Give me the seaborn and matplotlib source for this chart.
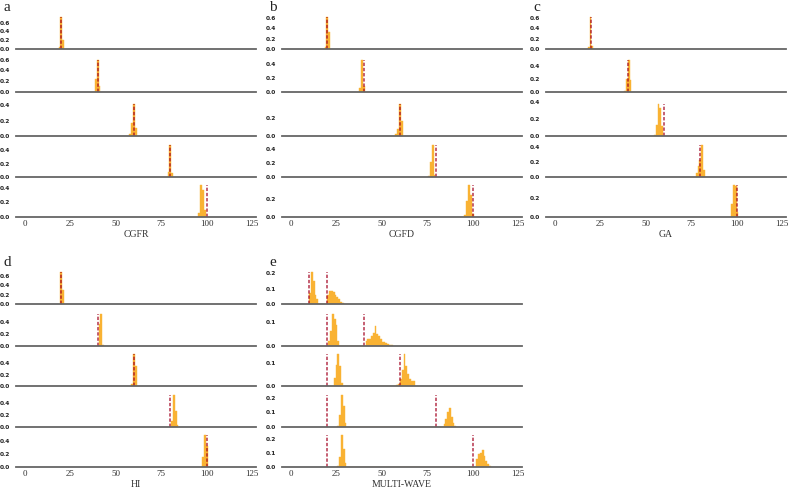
import numpy as np
import matplotlib
matplotlib.use('Agg')
import matplotlib.pyplot as plt
import seaborn as sns

# values
# *_true  : true positions (red dashed lines)
# *_first : centre of the first histogram bin in each row (bin width 1)
# *_dens  : bar heights (density) in each row
cgfr_true = [20, 40, 60, 80, 100]
cgfr_first = [19, 39, 58, 79, 96]
cgfr_dens = [[0.04, 0.74, 0.2],
             [0.25, 0.6, 0.12],
             [0.03, 0.17, 0.42, 0.1],
             [0.08, 0.48, 0.06],
             [0.05, 0.44, 0.37, 0.1]]

cgfd_true = [20, 40, 60, 80, 100]
cgfd_first = [19, 38, 58, 76, 96]
cgfd_dens = [[0.03, 0.62, 0.33],
             [0.06, 0.46, 0.08],
             [0.02, 0.08, 0.37, 0.17],
             [0.02, 0.22, 0.47, 0.03],
             [0.02, 0.18, 0.36, 0.24, 0.03]]

ga_true = [20, 40, 60, 80, 100]
ga_first = [18.5, 38.5, 55, 78, 97.5]
ga_dens = [[0.04, 0.62, 0.05],
           [0.02, 0.2, 0.49, 0.18],
           [0.01, 0.13, 0.385, 0.33, 0.12],
           [0.05, 0.15, 0.22, 0.43, 0.09],
           [0.14, 0.35, 0.34, 0.05]]

hi_true = [20, 40, 60, 80, 100]
hi_first = [20, 41, 59, 81, 98]
hi_dens = [[0.7, 0.3],
           [0.38, 0.55, 0.02],
           [0.04, 0.57, 0.35],
           [0.1, 0.55, 0.27, 0.03],
           [0.15, 0.5, 0.32]]

mw_true = [[10, 20], [20, 40], [20, 60], [20, 80], [20, 100]]
mw_first = [[10.5, 20.5], [21, 41.5], [24, 58.5], [26, 84.5], [26, 102.5]]
mw_dens = [
    [[0.07, 0.21, 0.15, 0.06, 0.03],
     [0.06, 0.085, 0.087, 0.075, 0.06, 0.045, 0.03, 0.015, 0.005]],
    [[0.02, 0.065, 0.136, 0.115, 0.09, 0.02],
     [0.02, 0.03, 0.03, 0.043, 0.055, 0.083, 0.05, 0.04, 0.03, 0.015,
      0.015, 0.012, 0.008, 0.005, 0.003]],
    [[0.035, 0.09, 0.137, 0.085, 0.012],
     [0.005, 0.01, 0.03, 0.07, 0.14, 0.085, 0.05, 0.03, 0.023, 0.02]],
    [[0.01, 0.08, 0.22, 0.14, 0.03],
     [0.02, 0.057, 0.1, 0.128, 0.07, 0.025, 0.01]],
    [[0.01, 0.07, 0.23, 0.125, 0.03],
     [0.06, 0.09, 0.1, 0.12, 0.075, 0.04, 0.02, 0.01]],
]

sns.set_style('white')
plt.rcParams['font.family'] = ['Liberation Serif', 'DejaVu Serif']

W, H = 790, 490
fig = plt.figure(figsize=(W / 100, H / 100), dpi=100)

BAR = '#f9b233'
LINE = '#a3001f'
AX_W, AX_H = 240, 34
top_rows = [49, 92, 136, 177, 217]
bot_rows = [304, 346, 386, 427, 467]


def draw_panel(left, rows, trues, firsts, dens, name, letter, step):
    for r in range(5):
        ax = fig.add_axes([left / W, 1 - rows[r] / H, AX_W / W, AX_H / H])
        t = np.atleast_1d(trues[r])
        f = np.atleast_1d(firsts[r])
        d = dens[r] if isinstance(dens[r][0], list) else [dens[r]]
        centres = np.concatenate([fi + np.arange(len(di)) for fi, di in zip(f, d)])
        weights = np.concatenate([np.array(di, float) for di in d])
        edges = np.unique(np.round(np.concatenate([centres - 0.5, centres + 0.5]), 6))
        sns.histplot(x=centres, weights=weights, bins=edges.tolist(), ax=ax,
                     color=BAR, alpha=1, edgecolor=BAR, linewidth=0.3)
        top = weights.max()
        ax.vlines(t, 0, top, colors=LINE, alpha=0.8, linewidth=1.1,
                  linestyles=(0, (2.2, 1.2)), zorder=4)
        ax.set_xlim(-5, 127.2)
        ax.set_ylim(0, top * 1.05)
        yt = np.arange(0, top * 1.05 + 1e-9, step)
        ax.set_yticks(yt)
        ax.set_yticklabels([f'{v:.1f}' for v in yt], fontfamily='DejaVu Sans',
                           fontweight='bold', fontsize=4.2, color='#222222')
        ax.set_ylabel('')
        ax.set_xlabel('')
        for s in ['top', 'left', 'right']:
            ax.spines[s].set_visible(False)
        ax.spines['bottom'].set_color('#666666')
        ax.spines['bottom'].set_linewidth(1.3)
        ax.spines['bottom'].set_zorder(5)
        ax.tick_params(axis='y', length=0, pad=4)
        ax.set_xticks([0, 25, 50, 75, 100, 125])
        if r < 4:
            ax.tick_params(axis='x', length=0, labelbottom=False)
        else:
            ax.tick_params(axis='x', length=0, pad=2, labelsize=6.5,
                           labelcolor='#333333')
            ax.set_xlabel(name, fontsize=7, color='#333333', labelpad=1.5)
    fig.text((left - 13) / W, 1 - (rows[0] - 38) / H, letter, fontsize=11,
             va='baseline', ha='left', color='#222222')


draw_panel(16, top_rows, cgfr_true, cgfr_first, cgfr_dens, 'CGFR', 'a', 0.2)
draw_panel(282, top_rows, cgfd_true, cgfd_first, cgfd_dens, 'CGFD', 'b', 0.2)
draw_panel(546, top_rows, ga_true, ga_first, ga_dens, 'GA', 'c', 0.2)
draw_panel(16, bot_rows, hi_true, hi_first, hi_dens, 'HI', 'd', 0.2)
draw_panel(282, bot_rows, mw_true, mw_first, mw_dens, 'MULTI-WAVE', 'e', 0.1)

fig.savefig('out.png', dpi=100)
